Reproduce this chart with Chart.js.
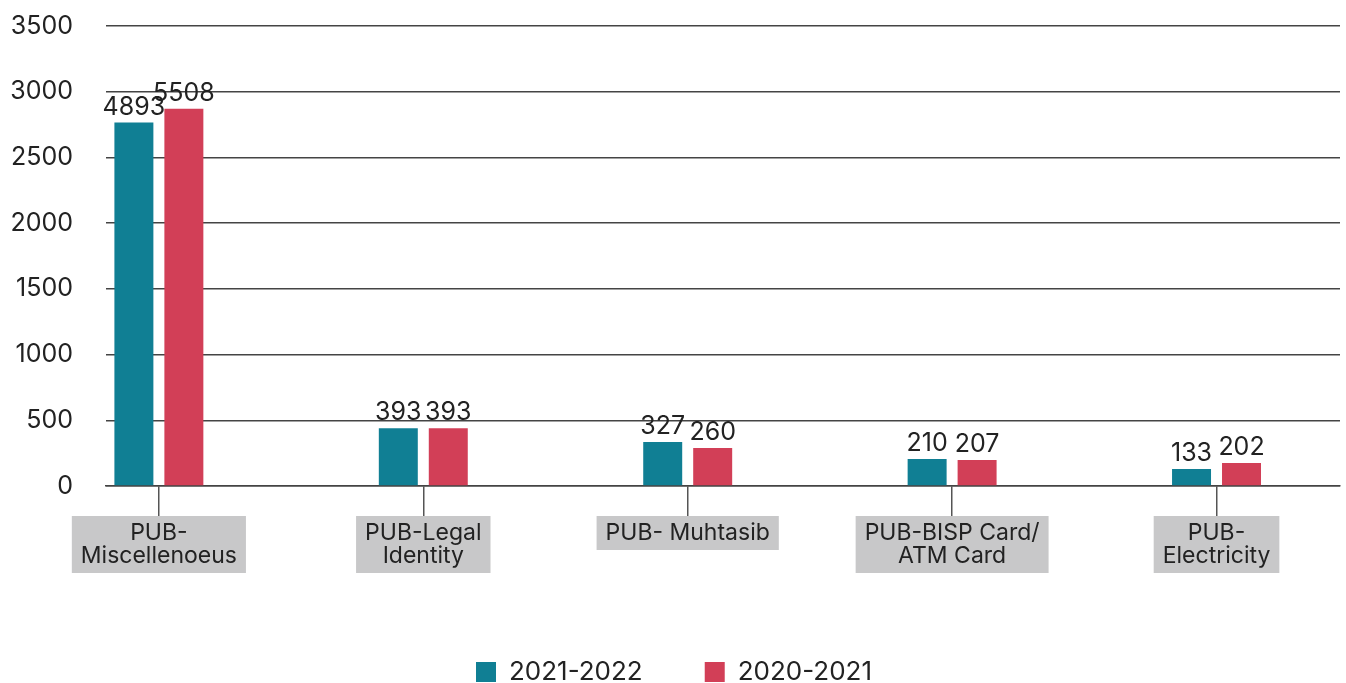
<!DOCTYPE html>
<html>
<head>
<meta charset="utf-8">
<script src="https://cdn.jsdelivr.net/npm/chart.js@4.4.0/dist/chart.umd.min.js"></script>
<style>
html, body { margin: 0; padding: 0; background: #fff; overflow: hidden; }
#wrap { position: relative; width: 1346px; height: 695px; }
</style>
</head>
<body>
<div id="wrap"><canvas id="chart"></canvas></div>
<script>
// categories (multi-line labels as in the original boxes)
const categories = [
    ['PUB-', 'Miscellenoeus'],
    ['PUB-Legal', 'Identity'],
    ['PUB- Muhtasib'],
    ['PUB-BISP Card/', 'ATM Card'],
    ['PUB-', 'Electricity']
];

// bar heights as drawn
const values2122 = [2765, 440, 335, 205, 130];
const values2021 = [2870, 440, 290, 198, 175];

// numbers printed above the bars
const labels2122 = ['4893', '393', '327', '210', '133'];
const labels2021 = ['5508', '393', '260', '207', '202'];

const yTicks = [0, 500, 1000, 1500, 2000, 2500, 3000, 3500];

const TEAL = '#107f94';
const RED = '#d23f57';
const TEXT = '#222';
const FONT = 'Inter, "Open Sans", sans-serif';

Chart.defaults.font.family = FONT;
Chart.defaults.color = TEXT;

const barLabels = {
    id: 'barLabels',
    afterDatasetsDraw(chart) {
        const ctx = chart.ctx;
        const texts = [labels2122, labels2021];
        ctx.save();
        ctx.font = '25px ' + FONT;
        ctx.fillStyle = TEXT;
        ctx.textAlign = 'center';
        ctx.textBaseline = 'alphabetic';
        chart.data.datasets.forEach((ds, d) => {
            chart.getDatasetMeta(d).data.forEach((bar, i) => {
                ctx.fillText(texts[d][i], bar.x, bar.y - 8);
            });
        });
        ctx.restore();
    }
};

// grey boxes with the category names under the tick marks
const categoryBoxes = {
    id: 'categoryBoxes',
    afterDraw(chart) {
        const ctx = chart.ctx;
        const xs = chart.scales.x;
        const lineH = 23;
        ctx.save();
        ctx.font = '23px ' + FONT;
        ctx.textAlign = 'center';
        ctx.textBaseline = 'middle';
        xs.ticks.forEach((t, i) => {
            const lines = categories[t.value];
            const cx = xs.getPixelForTick(i);
            const w = Math.max(...lines.map((l) => ctx.measureText(l).width)) + 18;
            const h = lines.length * lineH + 11;
            const top = xs.top + 30;
            ctx.fillStyle = '#c8c8c9';
            ctx.fillRect(cx - w / 2, top, w, h);
            ctx.fillStyle = TEXT;
            lines.forEach((l, k) => {
                ctx.fillText(l, cx, top + 6 + lineH / 2 + k * lineH);
            });
        });
        ctx.restore();
    }
};

const toPoints = (vals) => vals.map((v, i) => ({ x: i, y: v }));

new Chart(document.getElementById('chart'), {
    type: 'bar',
    data: {
        datasets: [
            { label: '2021-2022', data: toPoints(values2122), backgroundColor: TEAL, borderWidth: 0 },
            { label: '2020-2021', data: toPoints(values2021), backgroundColor: RED, borderWidth: 0 }
        ]
    },
    options: {
        responsive: true,
        maintainAspectRatio: false,
        animation: false,
        categoryPercentage: 0.378,
        barPercentage: 0.78,
        layout: { padding: { left: 8, right: 6, top: 26, bottom: 0 } },
        plugins: {
            tooltip: { enabled: false },
            legend: {
                position: 'bottom',
                labels: {
                    boxWidth: 20,
                    boxHeight: 20,
                    padding: 62,
                    color: TEXT,
                    font: { size: 26 }
                }
            }
        },
        scales: {
            x: {
                type: 'linear',
                min: -0.2,
                max: 4.467,
                offset: false,
                afterBuildTicks: (s) => { s.ticks = categories.map((c, i) => ({ value: i })); },
                afterFit: (s) => { s.height = 111; },
                grid: {
                    offset: false,
                    drawOnChartArea: false,
                    drawTicks: true,
                    tickLength: 32,
                    color: '#555',
                    lineWidth: 1.5
                },
                border: { display: true, color: '#444', width: 1.5 },
                ticks: { display: false }
            },
            y: {
                min: 0,
                max: 3500,
                afterBuildTicks: (s) => { s.ticks = yTicks.map((v) => ({ value: v })); },
                afterFit: (s) => { s.width = 98; },
                border: { display: false },
                grid: {
                    color: '#444',
                    lineWidth: 1.5,
                    drawTicks: true,
                    tickLength: 33,
                    tickColor: 'rgba(0,0,0,0)'
                },
                ticks: { font: { size: 25 }, color: TEXT, padding: 0, callback: (v) => String(v) }
            }
        }
    },
    plugins: [barLabels, categoryBoxes]
});
</script>
</body>
</html>
